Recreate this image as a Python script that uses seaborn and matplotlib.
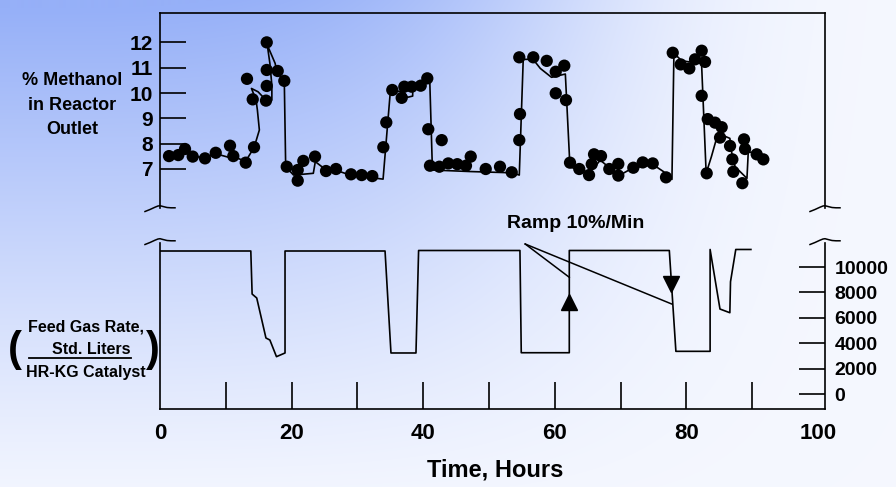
# Methanol in reactor outlet vs feed gas rate, over time

import numpy as np
import matplotlib.pyplot as plt
from matplotlib.lines import Line2D
import seaborn as sns

# --- data ---
# dots: % methanol in reactor outlet
meoh_hours = [1.37, 2.78, 3.80, 4.97, 6.84, 8.47, 10.64, 11.14, 13.03, 14.29,
              13.22, 14.09, 16.11, 16.22, 16.22, 16.22, 17.89, 18.89, 19.26, 20.93,
              20.93, 21.78, 23.56, 25.23, 26.75, 29.03, 30.65, 32.26, 33.94, 34.39,
              35.30, 36.73, 37.13, 38.25, 39.62, 40.62, 40.77, 42.81, 41.03, 42.45,
              43.81, 45.18, 46.50, 47.22, 49.50, 51.67, 53.45, 54.60, 54.71, 54.60,
              56.73, 58.77, 61.44, 60.14, 60.14, 61.70, 62.31, 63.72, 65.20, 65.61,
              65.96, 67.02, 68.28, 69.65, 69.65, 71.93, 73.36, 74.88, 76.90, 77.92,
              79.13, 80.44, 81.31, 82.32, 82.83, 82.32, 83.08, 83.24, 84.35, 85.36,
              85.11, 86.63, 86.98, 87.13, 88.75, 88.91, 88.50, 90.68, 91.69]
meoh_pct = [7.51, 7.55, 7.79, 7.49, 7.42, 7.64, 7.92, 7.51, 7.25, 7.86,
            10.56, 9.75, 9.70, 10.28, 10.91, 12.0, 10.87, 10.48, 7.09, 6.96,
            6.54, 7.32, 7.49, 6.92, 7.00, 6.79, 6.76, 6.72, 7.86, 8.84,
            10.12, 9.81, 10.25, 10.25, 10.29, 10.58, 8.57, 8.14, 7.13, 7.09,
            7.22, 7.19, 7.13, 7.49, 7.00, 7.09, 6.87, 8.14, 9.17, 11.41,
            11.41, 11.27, 11.08, 10.84, 9.99, 9.72, 7.25, 7.00, 6.76, 7.19,
            7.58, 7.51, 7.00, 7.20, 6.74, 7.05, 7.26, 7.22, 6.67, 11.59,
            11.13, 10.97, 11.33, 11.67, 11.23, 9.89, 6.83, 8.97, 8.83, 8.65,
            8.24, 7.91, 7.38, 6.89, 8.17, 7.79, 6.44, 7.58, 7.38]

# thin trace drawn through the dots
trace_hours = [0.6, 2.8, 3.8, 5.0, 6.8, 8.5, 10.6, 11.1, 13.0, 14.3,
               15.1, 14.8, 14.6, 13.9, 14.9, 16.1, 17.0, 17.0, 16.7, 16.3,
               17.5, 17.7, 18.7, 18.9, 19.1, 20.3, 23.3, 23.6, 24.6, 25.2,
               26.75, 28.9, 33.9, 35.0, 37.0, 37.6, 38.4, 38.4, 39.8, 41.0,
               41.4, 47.1, 53.5, 54.6, 55.2, 56.7, 57.8, 59.5, 61.6, 62.3,
               64.8, 66.1, 66.9, 68.4, 69.9, 71.9, 75.0, 76.5, 77.8, 78.1,
               79.3, 82.3, 83.0, 83.8, 84.8, 86.6, 86.9, 87.4, 89.2, 89.4, 90.7]
trace_pct = [7.5, 7.55, 7.68, 7.5, 7.45, 7.6, 7.45, 7.5, 7.3, 7.85,
             8.54, 9.33, 9.72, 10.18, 10.05, 9.72, 9.72, 10.3, 11.17, 11.9,
             11.17, 10.9, 10.5, 10.3, 7.09, 6.76, 6.83, 7.29, 7.09, 6.92,
             6.95, 6.76, 6.6, 10.05, 10.08, 9.83, 9.88, 10.2, 10.3, 10.45,
             6.96, 6.9, 6.85, 6.76, 11.33, 11.33, 10.97, 10.62, 10.75, 7.09,
             6.83, 7.09, 7.35, 7.03, 6.76, 7.05, 7.16, 6.9, 6.59, 11.57,
             11.27, 11.17, 6.83, 7.49, 8.41, 8.21, 7.62, 7.09, 6.63, 7.68, 7.62]

# feed gas rate, std. liters / hr-kg catalyst
feed_hours = [0, 13.8, 14.0, 14.7, 16.1, 16.7, 17.7, 19.0, 19.0, 34.2,
              35.1, 38.9, 39.3, 54.7, 54.9, 62.2, 62.2, 77.4, 78.4, 83.6,
              83.6, 85.1, 86.6, 86.7, 87.5, 89.8]
feed_rate = [11260, 11260, 7870, 7560, 4410, 4250, 2940, 3230, 11260, 11260,
             3230, 3230, 11300, 11300, 3250, 3250, 11300, 11300, 3360, 3360,
             11380, 6690, 6400, 8840, 11380, 11380]

# ramp annotation: where the leader lines start/end and the two arrow heads
ramp_label = "Ramp 10%/Min"
ramp_from = (55.5, 11810)
ramp_to_hours = [62.2, 77.75]
ramp_to_rate = [9190, 7090]
arrow_up = (62.2, 7240)
arrow_down = (77.7, 8660)

pct_ticks = [7, 8, 9, 10, 11, 12]
rate_ticks = [0, 2000, 4000, 6000, 8000, 10000]
hour_labels = [0, 20, 40, 60, 80, 100]
hour_minor = [10, 20, 30, 40, 50, 60, 70, 80, 90]

# --- style ---
plt.rcParams['font.family'] = ['Liberation Sans', 'DejaVu Sans']
plt.rcParams['font.weight'] = 'bold'
plt.rcParams['axes.linewidth'] = 1.2

W, H = 896, 487
fig = plt.figure(figsize=(W / 100, H / 100), dpi=100)

# soft blue background, strongest in the top-left corner
xx, yy = np.meshgrid(np.arange(W), np.arange(H))
f = np.exp(-(xx / 582.0) ** 4) * np.clip(1 - yy / 520.0, 0, 1) ** 1.2
f = np.clip(f + 0.02, 0, 1)
blue = np.array([150, 176, 248]) / 255
white = np.array([247, 249, 255]) / 255
bg_img = white[None, None, :] * (1 - f[..., None]) + blue[None, None, :] * f[..., None]
bg = fig.add_axes([0, 0, 1, 1], zorder=-10)
bg.imshow(bg_img, aspect='auto', extent=[0, 1, 0, 1])
bg.axis('off')


def fx(px):
    return px / W


def fy(py):
    return 1 - py / H


left, right = 160, 825
ax_top = fig.add_axes([fx(left), fy(208), fx(right) - fx(left), fy(13) - fy(208)])
ax_bot = fig.add_axes([fx(left), fy(409), fx(right) - fx(left), fy(243) - fy(409)])
for ax in (ax_top, ax_bot):
    ax.set_facecolor('none')
    ax.set_xlim(0, 101.06)
    for s in ax.spines.values():
        s.set_color('black')
        s.set_linewidth(1.2)

# --- top: methanol ---
sns.lineplot(x=trace_hours, y=trace_pct, sort=False, estimator=None,
             color='black', lw=1.2, ax=ax_top)
sns.scatterplot(x=meoh_hours, y=meoh_pct, color='black', s=78,
                edgecolor='none', ax=ax_top, zorder=3)
ax_top.set_ylim(5.46, 13.16)
ax_top.spines['bottom'].set_visible(False)
ax_top.set_xticks([])
ax_top.set_yticks(pct_ticks)
ax_top.tick_params(axis='y', direction='in', length=18.5, width=1.2, pad=5,
                   labelsize=15)

# --- bottom: feed gas rate ---
sns.lineplot(x=feed_hours, y=feed_rate, sort=False, estimator=None,
             color='black', lw=1.2, ax=ax_bot)
ax_bot.set_ylim(-1181, 11890)
ax_bot.spines['top'].set_visible(False)
ax_bot.yaxis.tick_right()
ax_bot.set_yticks(rate_ticks)
ax_bot.tick_params(axis='y', direction='in', length=18.5, width=1.2, pad=7,
                   labelsize=14)
ax_bot.xaxis.remove_overlapping_locs = False
ax_bot.set_xticks(hour_labels)
ax_bot.set_xticks(hour_minor, minor=True)
ax_bot.tick_params(axis='x', which='major', length=0, pad=10, labelsize=16)
ax_bot.tick_params(axis='x', which='minor', direction='in', length=19.5, width=1.2)

# ramp leader lines + arrow heads
for hx, ry in zip(ramp_to_hours, ramp_to_rate):
    ax_bot.plot([ramp_from[0], hx], [ramp_from[1], ry], color='black', lw=1.1,
                clip_on=False)
ax_bot.plot(*arrow_up, marker='^', ms=12, color='black')
ax_bot.plot(*arrow_down, marker='v', ms=12, color='black')
ax_bot.text(63.1, 13390, ramp_label, ha='center', va='center', fontsize=14,
            fontweight='bold')

ax_bot.set_xlabel('')
ax_bot.set_ylabel('')
ax_top.set_xlabel('')
ax_top.set_ylabel('')

# axis break marks (little tildes)
tilde_dx = np.array([-15, -10, -5, -2, 0, 3, 7, 11, 15])
tilde_dy = np.array([-3.5, -1.5, 0.8, 2, 2.3, 1.5, 0.5, 0.2, 0.2])
for sx in (left, right):
    for sy in (208, 241):
        fig.add_artist(Line2D(fx(sx + tilde_dx), fy(sy - tilde_dy),
                              color='black', lw=1.1))

# --- labels ---
fig.text(fx(72), fy(105), '% Methanol\nin Reactor\nOutlet', ha='center',
         va='center', fontsize=13, fontweight='bold', linespacing=1.6)
fig.text(fx(86), fy(327), 'Feed Gas Rate,', ha='center', va='center',
         fontsize=11.5, fontweight='bold')
fig.text(fx(91), fy(349), 'Std. Liters', ha='center', va='center',
         fontsize=11.5, fontweight='bold')
fig.add_artist(Line2D([fx(29), fx(131)], [fy(358), fy(358)], color='black', lw=1.3))
fig.text(fx(86), fy(372), 'HR-KG Catalyst', ha='center', va='center',
         fontsize=11.5, fontweight='bold')
fig.text(fx(15), fy(350), '(', ha='center', va='center', fontsize=30,
         fontweight='bold')
fig.text(fx(153), fy(350), ')', ha='center', va='center', fontsize=30,
         fontweight='bold')
fig.text(fx(495), fy(470), 'Time, Hours', ha='center', va='center',
         fontsize=17, fontweight='bold')

fig.savefig('out.png', dpi=100)
